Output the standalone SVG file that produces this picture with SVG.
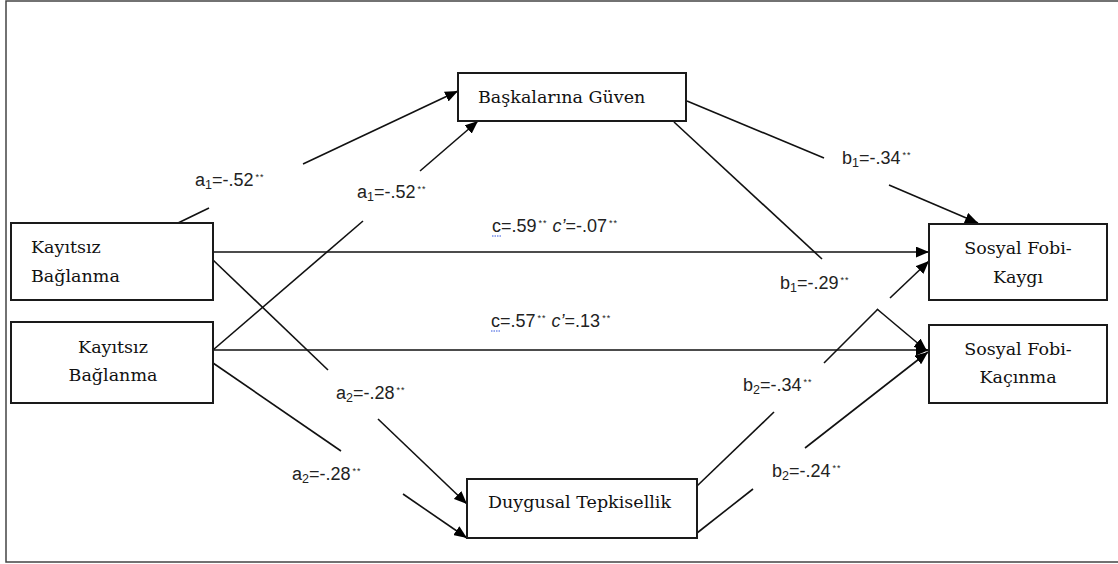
<svg xmlns="http://www.w3.org/2000/svg" width="1118" height="564" viewBox="0 0 1118 564">
<style>
.box{fill:#fff;stroke:#1a1a1a;stroke-width:2}
.nt{font-family:"DejaVu Serif","Liberation Serif",serif;font-size:17.5px;fill:#111}
.ln{stroke:#111;stroke-width:1.6;fill:none}
.lb{font-family:"Liberation Sans","Arial",sans-serif;font-size:18px;fill:#222}
.sub{font-size:12.5px}
.st{font-size:9px;letter-spacing:1px}
</style>
<defs>
<marker id="ah" viewBox="0 0 12 10" refX="12" refY="5" markerWidth="13" markerHeight="11" orient="auto" markerUnits="userSpaceOnUse">
<path d="M0,0 L12,5 L0,10 z" fill="#000"/>
</marker>
</defs>
<path d="M1118,1 H6 V562 H1118" fill="none" stroke="#444" stroke-width="1.5"/>
<g id="connectors">
<line class="ln" x1="178" y1="223" x2="209" y2="208"/>
<line class="ln" x1="303" y1="164" x2="458" y2="91" marker-end="url(#ah)"/>
<line class="ln" x1="213" y1="350" x2="363" y2="221"/>
<line class="ln" x1="420" y1="171" x2="478" y2="121" marker-end="url(#ah)"/>
<line class="ln" x1="213" y1="252" x2="929" y2="252" marker-end="url(#ah)"/>
<line class="ln" x1="213" y1="350" x2="929" y2="350" marker-end="url(#ah)"/>
<line class="ln" x1="213" y1="260" x2="328" y2="370"/>
<line class="ln" x1="378" y1="419" x2="467" y2="504" marker-end="url(#ah)"/>
<line class="ln" x1="213" y1="363" x2="341" y2="451"/>
<line class="ln" x1="403" y1="494" x2="467" y2="538" marker-end="url(#ah)"/>
<line class="ln" x1="687" y1="101" x2="824" y2="158"/>
<line class="ln" x1="889" y1="185" x2="978" y2="223" marker-end="url(#ah)"/>
<line class="ln" x1="674" y1="122" x2="822" y2="259"/>
<line class="ln" x1="877" y1="309" x2="927" y2="351" marker-end="url(#ah)"/>
<line class="ln" x1="697" y1="486" x2="774" y2="412"/>
<line class="ln" x1="824" y1="363" x2="878" y2="309"/>
<line class="ln" x1="890" y1="298" x2="929" y2="261" marker-end="url(#ah)"/>
<line class="ln" x1="697" y1="533" x2="753" y2="489"/>
<line class="ln" x1="805" y1="448" x2="928" y2="352" marker-end="url(#ah)"/>
</g>
<g id="n_kayitsiz1">
<rect class="box" x="11" y="223" width="202" height="77"/>
<text class="nt" x="31" y="253">Kayıtsız</text>
<text class="nt" x="31" y="282">Bağlanma</text>
</g>
<g id="n_kayitsiz2">
<rect class="box" x="11" y="322" width="202" height="81"/>
<text class="nt" x="113" y="353" text-anchor="middle">Kayıtsız</text>
<text class="nt" x="113" y="381" text-anchor="middle">Bağlanma</text>
</g>
<g id="n_guven">
<rect class="box" x="458" y="73" width="228" height="48"/>
<text class="nt" x="478" y="103">Başkalarına Güven</text>
</g>
<g id="n_duygusal">
<rect class="box" x="467" y="479" width="230" height="59"/>
<text class="nt" x="488" y="508">Duygusal Tepkisellik</text>
</g>
<g id="n_kaygi">
<rect class="box" x="929" y="224" width="178" height="76"/>
<text class="nt" x="1018" y="254" text-anchor="middle">Sosyal Fobi-</text>
<text class="nt" x="1018" y="283" text-anchor="middle">Kaygı</text>
</g>
<g id="n_kacinma">
<rect class="box" x="929" y="325" width="178" height="78"/>
<text class="nt" x="1018" y="355" text-anchor="middle">Sosyal Fobi-</text>
<text class="nt" x="1018" y="383" text-anchor="middle">Kaçınma</text>
</g>
<g id="labels">
<text class="lb" x="195" y="186">a<tspan class="sub" dy="3">1</tspan><tspan dy="-3">=-.52</tspan><tspan class="st" dx="2" dy="-6">**</tspan></text>
<text class="lb" x="357" y="198">a<tspan class="sub" dy="3">1</tspan><tspan dy="-3">=-.52</tspan><tspan class="st" dx="2" dy="-6">**</tspan></text>
<text class="lb" x="492" y="232">c=.59<tspan class="st" dx="2" dy="-6">**</tspan><tspan dy="6"> </tspan><tspan font-style="italic">c’</tspan>=-.07<tspan class="st" dx="2" dy="-6">**</tspan></text>
<text class="lb" x="491" y="327">c=.57<tspan class="st" dx="2" dy="-6">**</tspan><tspan dy="6"> </tspan><tspan font-style="italic">c’</tspan>=.13<tspan class="st" dx="2" dy="-6">**</tspan></text>
<line x1="492" y1="236" x2="501" y2="236" stroke="#3355dd" stroke-width="1" stroke-dasharray="1.5 1"/>
<line x1="491" y1="331" x2="500" y2="331" stroke="#3355dd" stroke-width="1" stroke-dasharray="1.5 1"/>
<text class="lb" x="336" y="399">a<tspan class="sub" dy="3">2</tspan><tspan dy="-3">=-.28</tspan><tspan class="st" dx="2" dy="-6">**</tspan></text>
<text class="lb" x="292" y="480">a<tspan class="sub" dy="3">2</tspan><tspan dy="-3">=-.28</tspan><tspan class="st" dx="2" dy="-6">**</tspan></text>
<text class="lb" x="842" y="164">b<tspan class="sub" dy="3">1</tspan><tspan dy="-3">=-.34</tspan><tspan class="st" dx="2" dy="-6">**</tspan></text>
<text class="lb" x="780" y="289">b<tspan class="sub" dy="3">1</tspan><tspan dy="-3">=-.29</tspan><tspan class="st" dx="2" dy="-6">**</tspan></text>
<text class="lb" x="743" y="391">b<tspan class="sub" dy="3">2</tspan><tspan dy="-3">=-.34</tspan><tspan class="st" dx="2" dy="-6">**</tspan></text>
<text class="lb" x="772" y="477">b<tspan class="sub" dy="3">2</tspan><tspan dy="-3">=-.24</tspan><tspan class="st" dx="2" dy="-6">**</tspan></text>
</g>
</svg>
